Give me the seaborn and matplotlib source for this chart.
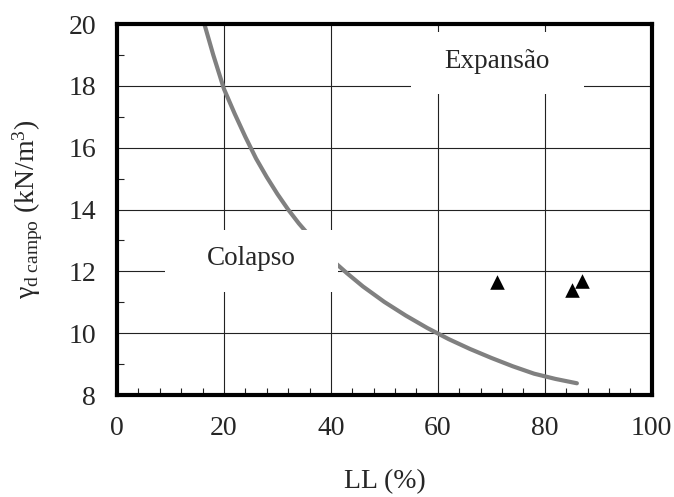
"""Dry unit weight in the field versus liquid limit, collapse/expansion chart."""
import matplotlib
matplotlib.use("Agg")
import matplotlib.pyplot as plt
from matplotlib.patches import Rectangle
from matplotlib.ticker import MultipleLocator
import pandas as pd
import seaborn as sns

# Boundary curve
curve_ll = [16, 17, 18, 19, 20, 22, 24, 26, 28, 30, 32, 34, 37, 40, 43, 46, 50,
            54, 58, 62, 66, 70, 74, 78, 82, 86]
curve_gamma = [20.2, 19.6, 19.0, 18.45, 17.9, 17.1, 16.35, 15.65, 15.05, 14.5,
               14.0, 13.55, 12.95, 12.4, 11.94, 11.51, 11.01, 10.57, 10.17, 9.81,
               9.49, 9.2, 8.93, 8.69, 8.52, 8.38]

# Measured samples
sample_ll = [71, 85, 87]
sample_gamma = [11.65, 11.4, 11.68]

curve = pd.DataFrame({"LL": curve_ll, "gamma": curve_gamma})
samples = pd.DataFrame({"LL": sample_ll, "gamma": sample_gamma})

sns.set_style("ticks")
plt.rcParams["font.family"] = ["Liberation Serif", "DejaVu Serif"]
plt.rcParams["mathtext.fontset"] = "custom"
plt.rcParams["mathtext.rm"] = "Liberation Serif"
plt.rcParams["mathtext.it"] = "Liberation Serif:italic"

fig, ax = plt.subplots(figsize=(6.74, 4.97), dpi=100)
fig.subplots_adjust(left=0.1736, right=0.967, top=0.9517, bottom=0.2052)

ax.set_xlim(0, 100)
ax.set_ylim(8, 20)
ax.xaxis.set_major_locator(MultipleLocator(20))
ax.xaxis.set_minor_locator(MultipleLocator(4))
ax.yaxis.set_major_locator(MultipleLocator(2))
ax.yaxis.set_minor_locator(MultipleLocator(1))
ax.grid(True, which="major", color="#222222", linewidth=0.8, zorder=0)
ax.set_axisbelow(True)

sns.lineplot(data=curve, x="LL", y="gamma", ax=ax, sort=False, color="#808080",
             linewidth=3.0, zorder=2, solid_capstyle="round",
             solid_joinstyle="round")
sns.scatterplot(data=samples, x="LL", y="gamma", ax=ax, marker="^", color="black",
                s=110, linewidth=0, zorder=4)

# white label boxes that hide grid and curve behind them
ax.add_patch(Rectangle((55.0, 17.73), 32.3, 2.01, facecolor="white",
                       edgecolor="none", zorder=3))
ax.add_patch(Rectangle((9.0, 11.33), 32.3, 2.0, facecolor="white",
                       edgecolor="none", zorder=3))
ax.text(71.1, 18.8, "Expansão", fontsize=19.5, ha="center", va="center", zorder=5)
ax.text(25.2, 12.4, "Colapso", fontsize=19.5, ha="center", va="center", zorder=5)

for side in ax.spines.values():
    side.set_linewidth(3.0)
    side.set_color("black")
    side.set_zorder(6)

ax.tick_params(axis="both", which="major", direction="in", length=0,
               labelsize=20, pad=15)
ax.tick_params(axis="both", which="minor", direction="in", length=5, width=0.8,
               color="#222222")

ax.set_xlabel("LL (%)", fontsize=20, labelpad=20)
ax.set_ylabel("γ$_{\\rm d\\ campo}$ (kN/m$^3$)", fontsize=20, labelpad=17)

fig.savefig("out.png", dpi=100)
plt.close(fig)
